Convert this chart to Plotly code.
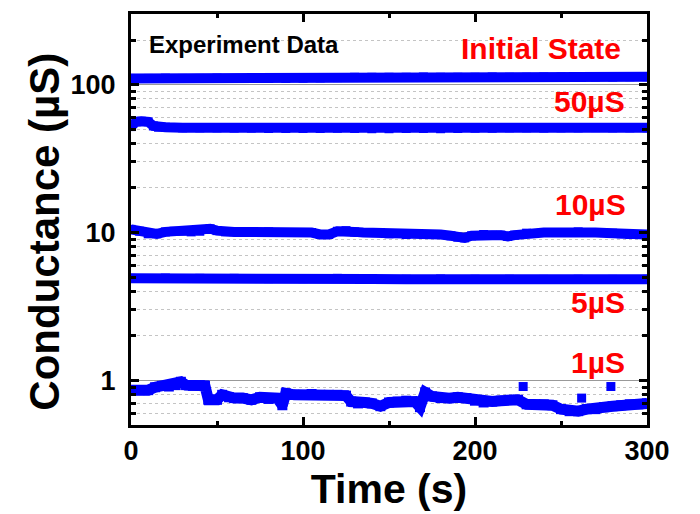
import plotly.graph_objects as go

# ---- measured conductance traces (time in s, conductance in µS) ----
t_ini = [0, 10, 20, 30, 40, 50, 60, 70, 80, 90, 100, 110, 120, 130, 140, 150,
         160, 170, 180, 190, 200, 210, 220, 230, 240, 250, 260, 270, 280, 290, 300]
g_ini = [110, 110, 110.5, 110, 110, 110.5, 110, 110.5, 110, 110, 110.5, 111,
         111.5, 112, 112, 112, 112, 112.5, 112, 112, 112, 112.5, 112, 112,
         112.5, 112.5, 112, 112.5, 112.5, 113, 113]

t_50 = [0, 3, 6, 10, 13, 16, 20, 30, 40, 50, 60, 70, 80, 90, 100, 110, 120, 130,
        140, 150, 160, 170, 180, 190, 200, 210, 220, 230, 240, 250, 260, 270,
        280, 290, 300]
g_50 = [52, 56, 56.5, 56, 52.5, 51.5, 51.5, 51, 51, 51, 50.8, 50.8, 50.5, 50.5,
        50.5, 50.5, 50.7, 50.5, 50.3, 50.3, 50.5, 50.5, 50.3, 50.5, 50.7, 50.7,
        51, 51, 50.8, 51, 51, 51.2, 51, 51, 51]

t_10 = [0, 5, 10, 15, 20, 25, 30, 35, 40, 46, 50, 55, 60, 70, 80, 90, 100, 105,
        110, 115, 120, 125, 130, 135, 140, 145, 150, 160, 170, 180, 186, 190,
        194, 198, 205, 210, 215, 219, 223, 230, 240, 250, 260, 270, 280, 285,
        290, 295, 300]
g_10 = [10.5, 10.2, 9.8, 9.8, 10.1, 10.2, 10.2, 10.1, 10.2, 10.6, 10.3, 10.1,
        10.1, 10.1, 10.1, 10.0, 10.0, 10.0, 9.7, 9.7, 10.2, 10.3, 10.1, 10.0,
        10.0, 10.0, 9.8, 9.7, 9.7, 9.7, 9.5, 9.3, 9.2, 9.5, 9.7, 9.6, 9.6, 9.4,
        9.6, 9.9, 10.0, 10.0, 10.1, 10.0, 9.9, 9.8, 9.7, 9.7, 9.7]

t_5 = [0, 20, 40, 60, 80, 100, 120, 140, 160, 180, 200, 220, 240, 260, 280, 300]
g_5 = [4.9, 4.92, 4.9, 4.9, 4.88, 4.88, 4.9, 4.85, 4.83, 4.85, 4.83, 4.83,
       4.82, 4.83, 4.82, 4.83]

t_1 = [0, 5, 10, 14, 18, 22, 26, 29, 32, 36, 40, 43, 45, 50, 53, 57, 60, 65, 70,
       75, 80, 85, 88, 90, 95, 100, 105, 110, 115, 120, 125, 128, 132, 136, 140,
       145, 150, 155, 160, 165, 168, 171, 175, 180, 185, 190, 195, 200, 205, 210,
       215, 220, 225, 230, 235, 240, 245, 250, 255, 260, 265, 270, 275, 280, 285,
       290, 295, 300]
g_1 = [0.86, 0.86, 0.86, 0.9, 0.92, 0.91, 0.93, 0.98, 0.93, 0.92, 0.93, 0.92,
       0.74, 0.74, 0.8, 0.77, 0.76, 0.76, 0.74, 0.77, 0.75, 0.76, 0.68, 0.82,
       0.8, 0.8, 0.81, 0.8, 0.8, 0.8, 0.79, 0.72, 0.7, 0.71, 0.7, 0.67, 0.71,
       0.72, 0.73, 0.72, 0.66, 0.83, 0.78, 0.76, 0.76, 0.77, 0.76, 0.73, 0.71,
       0.72, 0.73, 0.74, 0.74, 0.69, 0.69, 0.69, 0.68, 0.64, 0.62, 0.62, 0.64,
       0.64, 0.66, 0.67, 0.68, 0.69, 0.69, 0.7]
# isolated readings of the 1 µS trace
t_1_out = [228, 262, 279]
g_1_out = [0.91, 0.76, 0.91]

# ---- axis ticks ----
x_ticks = [0, 100, 200, 300]
x_minor = [50, 150, 250]
y_ticks = [1, 10, 100]
y_tick_text = ["1", "10", "100"]
y_minor = [0.6, 0.7, 0.8, 0.9, 2, 3, 4, 5, 6, 7, 8, 9,
           20, 30, 40, 50, 60, 70, 80, 90, 200]

# ---- state labels ----
labels = ["Initial State", "50µS", "10µS", "5µS", "1µS"]
label_y = [0.915, 0.788, 0.536, 0.297, 0.152]
label_x = [0.9535, 0.961, 0.963, 0.961, 0.961]

BLUE = "#0000ff"
FONT = "Liberation Sans, Arial, sans-serif"

fig = go.Figure()
for t, g in [(t_ini, g_ini), (t_50, g_50), (t_10, g_10), (t_5, g_5)]:
    fig.add_trace(go.Scatter(
        x=t, y=g, mode="lines+markers",
        line=dict(color=BLUE, width=10),
        marker=dict(symbol="square", size=9, color=BLUE),
        showlegend=False))
fig.add_trace(go.Scatter(
    x=t_1, y=g_1, mode="lines+markers",
    line=dict(color=BLUE, width=11),
    marker=dict(symbol="square", size=10, color=BLUE),
    showlegend=False))
fig.add_trace(go.Scatter(
    x=t_1_out, y=g_1_out, mode="markers",
    marker=dict(symbol="square", size=9, color=BLUE),
    showlegend=False))

fig.add_annotation(text="Experiment Data", xref="paper", yref="paper",
                   x=0.031, y=0.925, xanchor="left", yanchor="middle",
                   showarrow=False,
                   font=dict(family=FONT, size=24, color="black", weight="bold"))
for txt, lx, ly in zip(labels, label_x, label_y):
    fig.add_annotation(text=txt, xref="paper", yref="paper", x=lx, y=ly,
                       xanchor="right", yanchor="middle", showarrow=False,
                       font=dict(family=FONT, size=30, color="#ff0000",
                                 weight="bold"))

# y-axis title, placed beside the tick labels
fig.add_annotation(text="Conductance (µS)", xref="paper", yref="paper",
                   x=-0.167, y=0.47, xanchor="center", yanchor="middle",
                   textangle=-90, showarrow=False,
                   font=dict(family=FONT, size=42, color="black", weight="bold"))

fig.update_layout(
    width=700, height=514,
    margin=dict(l=131, r=53, t=11, b=83),
    paper_bgcolor="white", plot_bgcolor="white",
    font=dict(family=FONT, color="black"),
)
fig.update_xaxes(
    range=[0, 300], tickvals=x_ticks,
    ticks="inside", ticklen=8, tickwidth=3, tickcolor="black",
    showline=True, linewidth=3, linecolor="black", mirror="ticks",
    showgrid=False, zeroline=False,
    tickfont=dict(family=FONT, size=27, weight="bold"),
    title=dict(text="Time (s)", standoff=8,
               font=dict(family=FONT, size=41, weight="bold")),
    minor=dict(tickvals=x_minor, ticks="inside", ticklen=4, tickwidth=3,
               tickcolor="black", showgrid=False),
)
fig.update_yaxes(
    type="log", range=[-0.301, 2.477],
    tickvals=y_ticks, ticktext=y_tick_text,
    ticks="inside", ticklen=8, tickwidth=3, tickcolor="black",
    showline=True, linewidth=3, linecolor="black", mirror="ticks",
    showgrid=True, gridcolor="#999999", gridwidth=1, zeroline=False,
    tickfont=dict(family=FONT, size=27, weight="bold"),
    ticklabelstandoff=7,
    minor=dict(tickvals=y_minor, ticks="inside", ticklen=5, tickwidth=3,
               tickcolor="black", showgrid=True, gridcolor="#c4c4c4",
               gridwidth=1, griddash="dot"),
)

fig.write_html("out.html")
